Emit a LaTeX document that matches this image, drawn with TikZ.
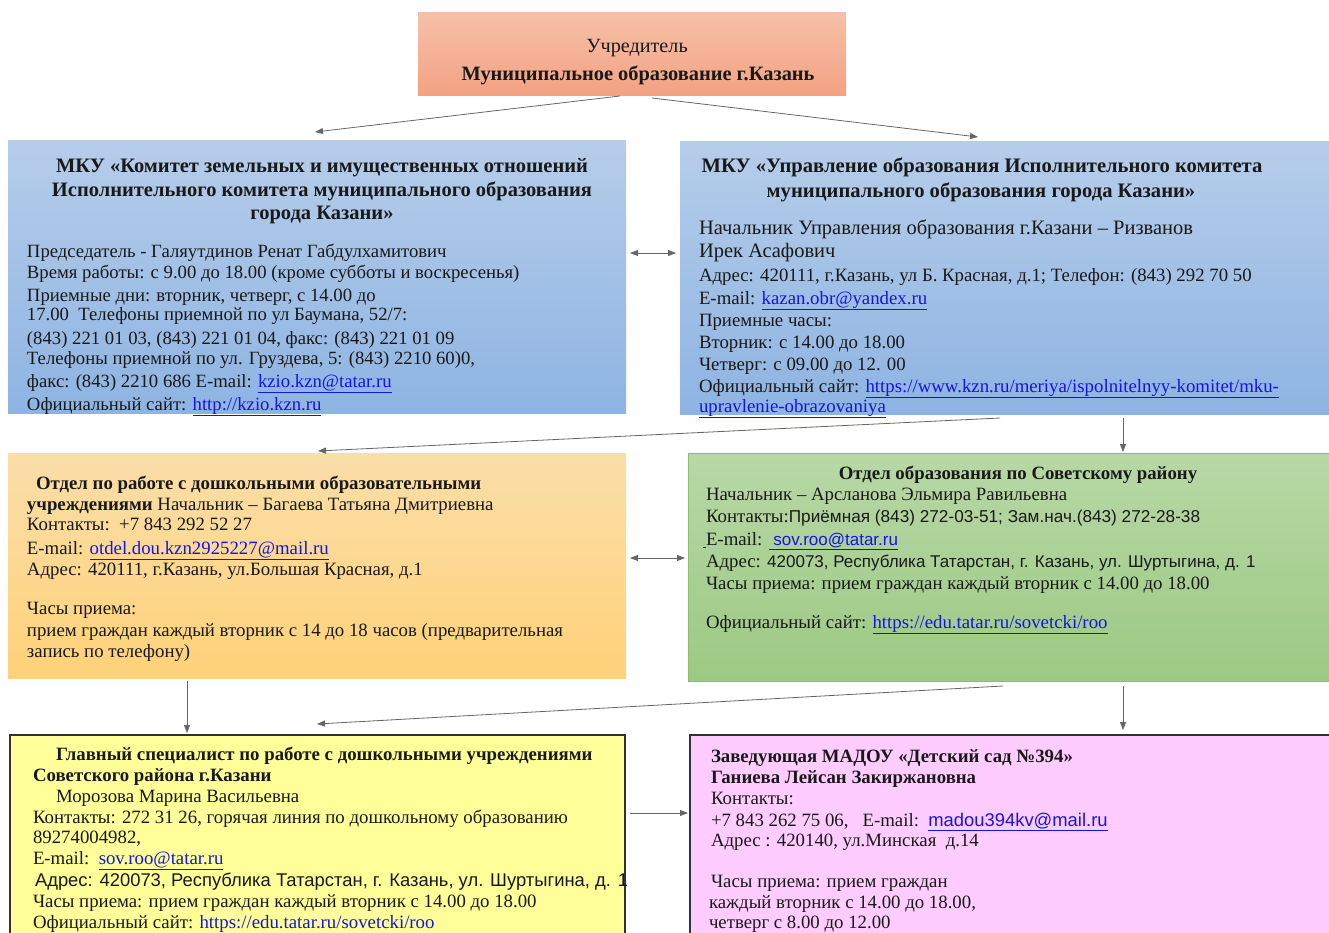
\documentclass[tikz,border=0pt]{standalone}
\usepackage{fontspec}
\setmainfont{Liberation Serif}
\newfontfamily\arialf{Liberation Sans}
\usetikzlibrary{arrows.meta,calc}
\definecolor{lnk}{RGB}{20,20,230}
\definecolor{salT}{RGB}{246,192,168}
\definecolor{salB}{RGB}{243,162,130}
\definecolor{bluT}{RGB}{182,205,234}
\definecolor{bluB}{RGB}{142,180,226}
\definecolor{orT}{RGB}{250,222,168}
\definecolor{orB}{RGB}{255,210,122}
\definecolor{grT}{RGB}{184,216,166}
\definecolor{grB}{RGB}{156,201,131}
\definecolor{grE}{RGB}{140,190,110}
\definecolor{yel}{RGB}{255,255,153}
\definecolor{pnk}{RGB}{255,204,255}
\definecolor{edge}{RGB}{50,50,50}
\newcommand{\lnkt}[1]{\textcolor{lnk}{\underline{#1}}}
\newcommand{\fs}[1]{\fontsize{#1}{#1}\selectfont}
\begin{document}
\begin{tikzpicture}[x=1pt,y=-1pt,
  box/.style={anchor=north west, inner sep=0pt, outer sep=0pt},
  tx/.style={anchor=base west, inner sep=0pt, outer sep=0pt, text=black!90},
  txc/.style={anchor=base, inner sep=0pt, outer sep=0pt, text=black!90},
  conn/.style={draw=black!60, line width=0.8pt, -{Triangle[length=8pt,width=6pt]}},
  dconn/.style={draw=black!60, line width=0.8pt, {Triangle[length=8pt,width=6pt]}-{Triangle[length=8pt,width=6pt]}},
  ]
\useasboundingbox (0,0) rectangle (1329,933);
% boxes
\node[box, top color=salT, bottom color=salB, minimum width=428pt, minimum height=83pt] (uch) at (418,13) {};
\node[box, top color=bluT, bottom color=bluB, minimum width=618pt, minimum height=272pt] (kzio) at (8,141) {};
\node[box, top color=bluT, bottom color=bluB, minimum width=660pt, minimum height=272pt] (uo) at (680,142) {};
\node[box, top color=orT, bottom color=orB, minimum width=618pt, minimum height=225pt] (dou) at (8,453) {};
\node[box, top color=grT, bottom color=grB, draw=grE, line width=1pt, minimum width=660pt, minimum height=228pt] (sov) at (688,453) {};
\node[box, fill=yel, draw=edge, line width=2pt, minimum width=615pt, minimum height=220pt] (spec) at (10,735) {};
\node[box, fill=pnk, draw=edge, line width=2pt, minimum width=660pt, minimum height=220pt] (madou) at (690,735) {};

% top text
\node[txc, font=\fs{20.2}] (u1) at (637,53) {Учредитель};
\node[txc, font=\fs{20.4}\bfseries] (u2) at (638,81) {Муниципальное образование г.Казань};

% left blue
\begin{scope}[every node/.append style={font=\fs{20.5}\bfseries}]
\node[txc] (k1) at (322,173) {МКУ «Комитет земельных и имущественных отношений};
\node[txc] (k2) at (322,197) {Исполнительного комитета муниципального образования};
\node[txc] (k3) at (322,220) {города Казани»};
\end{scope}
\begin{scope}[every node/.append style={font=\fs{18.7}}]
\node[tx] (k4) at (27,258) {Председатель - Галяутдинов Ренат Габдулхамитович};
\node[tx] (k5) at (27,278) {Время работы: с 9.00 до 18.00 (кроме субботы и воскресенья)};
\node[tx] (k6) at (27,301) {Приемные дни: вторник, четверг, с 14.00 до};
\node[tx] (k7) at (27,320) {17.00\ \ Телефоны приемной по ул Баумана, 52/7:};
\node[tx] (k8) at (27,344) {(843) 221 01 03, (843) 221 01 04, факс: (843) 221 01 09};
\node[tx] (k9) at (27,364) {Телефоны приемной по ул. Груздева, 5: (843) 2210 60)0,};
\node[tx] (k10) at (27,387) {факс: (843) 2210 686 E-mail: \lnkt{kzio.kzn@tatar.ru}};
\node[tx] (k11) at (27,410) {Официальный сайт: \lnkt{http://kzio.kzn.ru}};
\end{scope}

% right blue
\begin{scope}[every node/.append style={font=\fs{20.6}\bfseries}]
\node[txc] (o1) at (982,173) {МКУ «Управление образования Исполнительного комитета};
\node[txc] (o2) at (981,198) {муниципального образования города Казани»};
\end{scope}
\begin{scope}[every node/.append style={font=\fs{18.8}}]
\node[tx, font=\fs{20.5}] (o3) at (699,235) {Начальник Управления образования г.Казани – Ризванов};
\node[tx, font=\fs{20.5}] (o4) at (699,258) {Ирек Асафович};
\node[tx] (o5) at (699,281) {Адрес: 420111, г.Казань, ул Б. Красная, д.1; Телефон: (843) 292 70 50};
\node[tx] (o6) at (699,304) {E-mail: \lnkt{kazan.obr@yandex.ru}};
\node[tx] (o7) at (699,326) {Приемные часы:};
\node[tx] (o8) at (699,348) {Вторник: с 14.00 до 18.00};
\node[tx] (o9) at (699,370) {Четверг: с 09.00 до 12. 00};
\node[tx] (o10) at (699,392) {Официальный сайт: \lnkt{https://www.kzn.ru/meriya/ispolnitelnyy-komitet/mku-}};
\node[tx] (o11) at (699,412) {\lnkt{upravlenie-obrazovaniya}};
\end{scope}

% orange
\begin{scope}[every node/.append style={font=\fs{18.8}}]
\node[tx] (d1) at (36,489) {\bfseries Отдел по работе с дошкольными образовательными};
\node[tx] (d2) at (27,510) {\textbf{учреждениями} Начальник – Багаева Татьяна Дмитриевна};
\node[tx] (d3) at (27,530) {Контакты:\ \ +7 843 292 52 27};
\node[tx] (d4) at (27,554) {E-mail: \lnkt{otdel.dou.kzn2925227@mail.ru}};
\node[tx] (d5) at (27,575) {Адрес: 420111, г.Казань, ул.Большая Красная, д.1};
\node[tx] (d6) at (27,614) {Часы приема:};
\node[tx] (d7) at (27,636) {прием граждан каждый вторник с 14 до 18 часов (предварительная};
\node[tx] (d8) at (27,657) {запись по телефону)};
\end{scope}

% green
\begin{scope}[every node/.append style={font=\fs{18.8}}]
\node[txc, font=\fs{18.8}\bfseries] (s1) at (1018,479) {Отдел образования по Советскому району};
\node[tx] (s2) at (706,500) {Начальник – Арсланова Эльмира Равильевна};
\node[tx] (s3) at (706,522) {Контакты:{\arialf\fs{17.2}Приёмная (843) 272-03-51; Зам.нач.(843) 272-28-38}};
\node[tx] (s4) at (703,545) {\textcolor{lnk}{\rule[-2.5pt]{3pt}{0.8pt}}E-mail: \lnkt{\arialf\fs{17}\ sov.roo@tatar.ru}};
\node[tx] (s5) at (706,567) {Адрес:{\arialf\fs{17} 420073, Республика Татарстан, г. Казань, ул. Шуртыгина, д. 1}};
\node[tx] (s6) at (706,589) {Часы приема: прием граждан каждый вторник с 14.00 до 18.00};
\node[tx] (s7) at (706,628) {Официальный сайт: \lnkt{https://edu.tatar.ru/sovetcki/roo}};
\end{scope}

% yellow
\begin{scope}[every node/.append style={font=\fs{18.8}}]
\node[tx, font=\fs{18.8}\bfseries] (y1) at (56,760) {Главный специалист по работе с дошкольными учреждениями};
\node[tx, font=\fs{18.8}\bfseries] (y2) at (33,781) {Советского района г.Казани};
\node[tx] (y3) at (56,802) {Морозова Марина Васильевна};
\node[tx] (y4) at (33,823) {Контакты: 272 31 26, горячая линия по дошкольному образованию};
\node[tx] (y5) at (33,843) {89274004982,};
\node[tx] (y6) at (33,864) {E-mail:\ \ \lnkt{sov.roo@tatar.ru}};
\node[tx, font=\arialf\fs{18.4}] (y7) at (35,886) {Адрес: 420073, Республика Татарстан, г. Казань, ул. Шуртыгина, д. 1};
\node[tx] (y8) at (33,907) {Часы приема: прием граждан каждый вторник с 14.00 до 18.00};
\node[tx] (y9) at (33,928) {Официальный сайт: \lnkt{https://edu.tatar.ru/sovetcki/roo}};
\end{scope}

% pink
\begin{scope}[every node/.append style={font=\fs{18.8}}]
\node[tx, font=\fs{18.8}\bfseries] (p1) at (711,762) {Заведующая МАДОУ «Детский сад №394»};
\node[tx, font=\fs{18.8}\bfseries] (p2) at (711,783) {Ганиева Лейсан Закиржановна};
\node[tx] (p3) at (711,804) {Контакты:};
\node[tx] (p4) at (711,826) {+7 843 262 75 06,\ \ \ E-mail:\ \ \lnkt{\arialf\fs{18.4}madou394kv@mail.ru}};
\node[tx] (p5) at (711,846) {Адрес : 420140, ул.Минская\ \ д.14};
\node[tx] (p6) at (711,887) {Часы приема: прием граждан};
\node[tx] (p7) at (709,908) {каждый вторник с 14.00 до 18.00,};
\node[tx] (p8) at (709,928) {четверг с 8.00 до 12.00};
\end{scope}

% connectors
\draw[conn] ($(uch.south)+(-12,0)$) -- ($(kzio.north)+(-2,-9)$);
\draw[conn] ($(uch.south)+(20,2)$) -- ($(uo.north)+(-32,-5)$);
\draw[dconn] ($(kzio.north east)+(4,112)$) -- ($(uo.north west)+(-4,111)$);
\draw[conn] ($(uo.south west)+(320,4)$) -- ($(dou.north)+(1,-2)$);
\draw[conn] ($(uo.south west)+(443,4)$) -- ($(sov.north west)+(435,-1)$);
\draw[dconn] ($(dou.north east)+(4,105)$) -- ($(sov.north west)+(-3,105)$);
\draw[conn] ($(dou.south west)+(179,3)$) -- ($(spec.north west)+(177,-2)$);
\draw[conn] ($(sov.south west)+(315,5)$) -- ($(spec.north)+(-0.5,-11)$);
\draw[conn] ($(sov.south west)+(435,5)$) -- ($(madou.north west)+(433,-5)$);
\draw[conn] ($(spec.north east)+(5,78)$) -- ($(madou.north west)+(-2,78)$);
\end{tikzpicture}
\end{document}
